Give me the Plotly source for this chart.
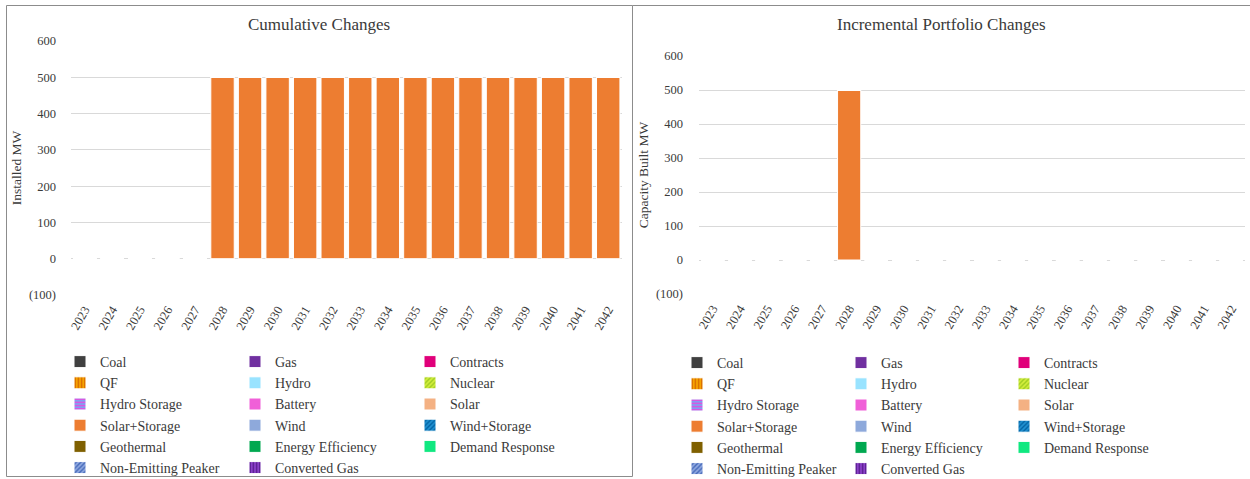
import plotly.graph_objects as go

# ---------------- data ----------------
years = ["2023", "2024", "2025", "2026", "2027", "2028", "2029", "2030", "2031", "2032",
         "2033", "2034", "2035", "2036", "2037", "2038", "2039", "2040", "2041", "2042"]

# legend columns (as laid out in the reference, read top-to-bottom)
legend_col1 = ["Coal", "QF", "Hydro Storage", "Solar+Storage", "Geothermal", "Non-Emitting Peaker"]
legend_col2 = ["Gas", "Hydro", "Battery", "Wind", "Energy Efficiency", "Converted Gas"]
legend_col3 = ["Contracts", "Nuclear", "Solar", "Wind+Storage", "Demand Response"]

# Solar+Storage is the only resource with non-zero values
solar_storage_cumulative_mw = [0, 0, 0, 0, 0, 500, 500, 500, 500, 500,
                               500, 500, 500, 500, 500, 500, 500, 500, 500, 500]
solar_storage_incremental_mw = [0, 0, 0, 0, 0, 500, 0, 0, 0, 0,
                                0, 0, 0, 0, 0, 0, 0, 0, 0, 0]
# every other resource is zero in every year
other_cumulative_mw = [0, 0, 0, 0, 0, 0, 0, 0, 0, 0,
                       0, 0, 0, 0, 0, 0, 0, 0, 0, 0]
other_incremental_mw = [0, 0, 0, 0, 0, 0, 0, 0, 0, 0,
                        0, 0, 0, 0, 0, 0, 0, 0, 0, 0]

ytick_vals = [-100, 0, 100, 200, 300, 400, 500, 600]
ytick_text = ["(100)", "0", "100", "200", "300", "400", "500", "600"]

left_title = "Cumulative Changes"
right_title = "Incremental Portfolio Changes"
left_ytitle = "Installed MW"
right_ytitle = "Capacity Built MW"

# ---------------- styles ----------------
styles = {
    "Coal": dict(color="#404040"),
    "Gas": dict(color="#7030A0"),
    "Contracts": dict(color="#E0007A"),
    "QF": dict(color="#F5A300", pattern=dict(shape="|", fgcolor="#D96C00", bgcolor="#F5A300", size=4, solidity=0.45)),
    "Hydro": dict(color="#99E3FF"),
    "Nuclear": dict(color="#D4EE3C", pattern=dict(shape="/", fgcolor="#9CCB22", bgcolor="#D4EE3C", size=4, solidity=0.45)),
    "Hydro Storage": dict(color="#80A0F0", pattern=dict(shape="-", fgcolor="#E050E0", bgcolor="#80A0F0", size=4, solidity=0.45)),
    "Battery": dict(color="#F060D8"),
    "Solar": dict(color="#F4B183"),
    "Solar+Storage": dict(color="#ED7D31"),
    "Wind": dict(color="#8EA9DB"),
    "Wind+Storage": dict(color="#2090D0", pattern=dict(shape="/", fgcolor="#0060A0", bgcolor="#2090D0", size=4, solidity=0.4)),
    "Geothermal": dict(color="#7F6000"),
    "Energy Efficiency": dict(color="#00A850"),
    "Demand Response": dict(color="#10E880"),
    "Non-Emitting Peaker": dict(color="#8FA8E0", pattern=dict(shape="/", fgcolor="#4468B8", bgcolor="#8FA8E0", size=4, solidity=0.45)),
    "Converted Gas": dict(color="#8A40C8", pattern=dict(shape="|", fgcolor="#5A1E90", bgcolor="#8A40C8", size=4, solidity=0.45)),
}

FONT = "Liberation Serif, Times New Roman, serif"
TXT = "#3A3A3A"
W, H = 1250, 479


def px(v):
    return v / W


def py(v):
    return 1 - v / H


fig = go.Figure()

columns = [legend_col1, legend_col2, legend_col3]
for side, (xa, ya, legs, cum) in enumerate([
        ("x", "y", ["legend", "legend2", "legend3"], True),
        ("x2", "y2", ["legend4", "legend5", "legend6"], False)]):
    for col, names in enumerate(columns):
        for name in names:
            if name == "Solar+Storage":
                vals = solar_storage_cumulative_mw if cum else solar_storage_incremental_mw
            else:
                vals = other_cumulative_mw if cum else other_incremental_mw
            st = styles[name]
            marker = dict(color=st["color"], line=dict(color="#FFFFFF", width=1))
            if "pattern" in st:
                marker["pattern"] = dict(fillmode="replace", **st["pattern"])
            fig.add_trace(go.Bar(
                x=years, y=vals, name=name, marker=marker,
                xaxis=xa, yaxis=ya, legend=legs[col], showlegend=True,
                hoverinfo="skip"))

axis_common = dict(showgrid=False, showline=False, zeroline=False, ticks="",
                   tickfont=dict(family=FONT, size=12.5, color=TXT))

yaxis_common = dict(range=[-100, 600], tickvals=ytick_vals, ticktext=ytick_text,
                    showgrid=True, gridcolor="#D9D9D9", gridwidth=1, zeroline=False,
                    showline=False, ticks="",
                    tickfont=dict(family=FONT, size=12.5, color=TXT))

legend_common = dict(orientation="v", xanchor="left", yanchor="middle", traceorder="normal",
                     bgcolor="rgba(0,0,0,0)", borderwidth=0,
                     font=dict(family=FONT, size=14, color=TXT))

TEXT_OFF = 36
fig.update_layout(
    width=W, height=H,
    margin=dict(l=0, r=0, t=0, b=0, autoexpand=False),
    paper_bgcolor="white", plot_bgcolor="white",
    barmode="relative", bargap=0.15,
    font=dict(family=FONT, color=TXT),
    xaxis=dict(domain=[px(71), px(622)], anchor="y", type="category",
               tickangle=-60, ticklabelstandoff=4, **axis_common),
    xaxis2=dict(domain=[px(699), px(1245)], anchor="y2", type="category",
                tickangle=-60, ticklabelstandoff=4, **axis_common),
    yaxis=dict(domain=[py(295), py(41)], anchor="x", ticklabelstandoff=14,
               title=dict(text=left_ytitle, standoff=4, font=dict(family=FONT, size=13.5, color=TXT)),
               **yaxis_common),
    yaxis2=dict(domain=[py(294), py(56)], anchor="x2", ticklabelstandoff=15,
                title=dict(text=right_ytitle, standoff=4, font=dict(family=FONT, size=13.5, color=TXT)),
                **yaxis_common),
    legend=dict(x=px(96 - TEXT_OFF), y=py(415), **legend_common),
    legend2=dict(x=px(271 - TEXT_OFF), y=py(415), **legend_common),
    legend3=dict(x=px(446 - TEXT_OFF), y=py(404), **legend_common),
    legend4=dict(x=px(713 - TEXT_OFF), y=py(416), **legend_common),
    legend5=dict(x=px(877 - TEXT_OFF), y=py(416), **legend_common),
    legend6=dict(x=px(1040 - TEXT_OFF), y=py(405), **legend_common),
    annotations=[
        dict(text=left_title, x=px(319), y=py(24), xref="paper", yref="paper",
             xanchor="center", yanchor="middle", showarrow=False,
             font=dict(family=FONT, size=17, color=TXT)),
        dict(text=right_title, x=px(941), y=py(24), xref="paper", yref="paper",
             xanchor="center", yanchor="middle", showarrow=False,
             font=dict(family=FONT, size=17, color=TXT)),
    ],
    shapes=[
        # chart frames
        dict(type="rect", xref="paper", yref="paper", x0=px(6.5), x1=px(632.5), y0=py(476.5), y1=py(5.5),
             line=dict(color="#8C8C8C", width=1), fillcolor="rgba(0,0,0,0)", layer="below"),
        dict(type="line", xref="paper", yref="paper", x0=px(632.5), x1=1, y0=py(5.5), y1=py(5.5),
             line=dict(color="#8C8C8C", width=1)),
    ],
)

fig.write_html(
    "out.html",
    config={"displayModeBar": False, "responsive": False},
    post_script="document.body.style.margin='0';document.body.style.overflow='hidden';",
)
